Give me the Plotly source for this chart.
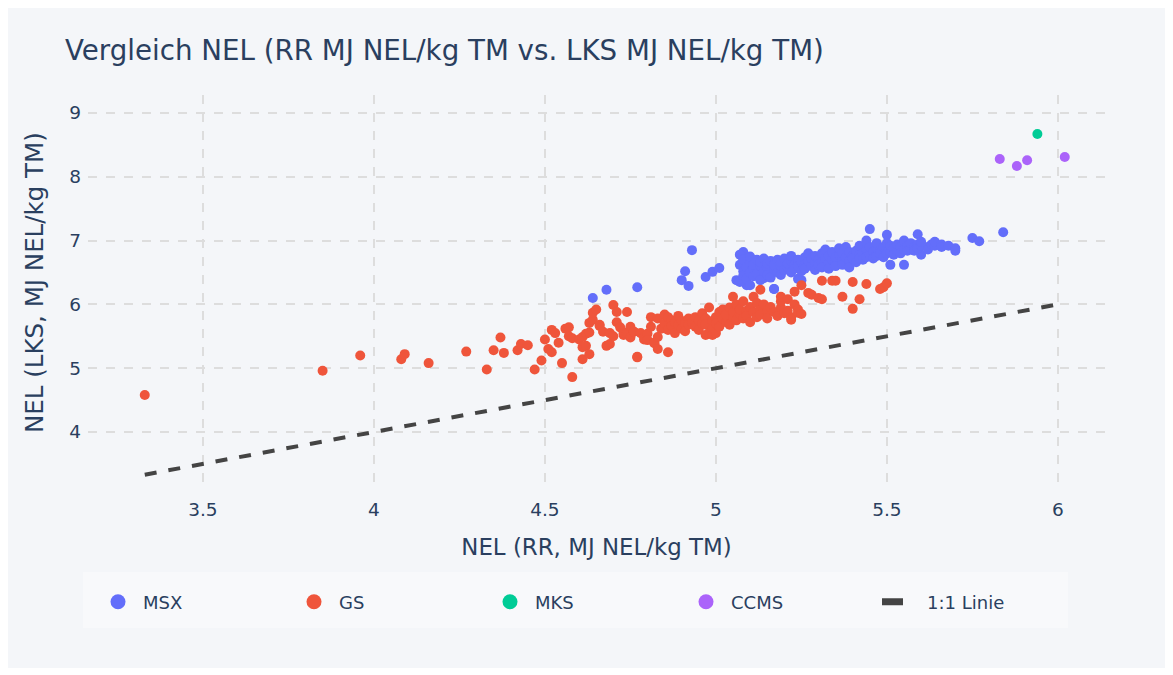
import plotly.graph_objects as go

# ---------------- data ----------------
gs_x = [3.33, 3.85, 3.96, 4.08, 4.09, 4.16, 4.27, 4.33, 4.35, 4.37, 4.38, 4.42, 4.43, 4.45, 4.47,
        4.49, 4.50, 4.51, 4.52, 4.52, 4.53, 4.54, 4.55, 4.56, 4.57, 4.57, 4.58, 4.58, 4.60, 4.61,
        4.61, 4.61, 4.62, 4.62, 4.63, 4.63, 4.63, 4.64, 4.64, 4.65, 4.66, 4.66, 4.67, 4.68, 4.69,
        4.69, 4.70, 4.70, 4.71, 4.71, 4.72, 4.73, 4.73, 4.74, 4.74, 4.75, 4.75, 4.76, 4.76, 4.77,
        4.77, 4.78, 4.79, 4.79, 4.80, 4.80, 4.81, 4.81, 4.82, 4.82, 4.83, 4.83, 4.83, 4.84, 4.85,
        4.85, 4.86, 4.86, 4.86, 4.87, 4.87, 4.88, 4.88, 4.89, 4.89, 4.90, 4.90, 4.91, 4.91, 4.92,
        4.92, 4.93, 4.94, 4.94, 4.95, 4.95, 4.96, 4.96, 4.97, 4.97, 4.97, 4.98, 4.98, 4.99, 4.99,
        4.99, 5.00, 5.00, 5.00, 5.01, 5.01, 5.02, 5.02, 5.03, 5.03, 5.04, 5.04, 5.05, 5.05, 5.05,
        5.06, 5.06, 5.07, 5.07, 5.08, 5.08, 5.09, 5.09, 5.10, 5.10, 5.11, 5.11, 5.12, 5.12, 5.13,
        5.13, 5.13, 5.14, 5.15, 5.15, 5.16, 5.17, 5.18, 5.19, 5.19, 5.19, 5.20, 5.21, 5.21, 5.22,
        5.22, 5.23, 5.23, 5.24, 5.24, 5.25, 5.25, 5.27, 5.28, 5.30, 5.31, 5.31, 5.34, 5.35, 5.37,
        5.40, 5.42, 5.40, 5.44, 5.48, 5.49, 5.50]
gs_y = [4.58, 4.96, 5.20, 5.14, 5.22, 5.08, 5.26, 4.98, 5.28, 5.48, 5.24, 5.28, 5.38, 5.36, 4.98,
        5.12, 5.45, 5.30, 5.25, 5.60, 5.55, 5.40, 5.08, 5.62, 5.64, 5.50, 5.47, 4.86, 5.45, 5.14,
        5.49, 5.33, 5.35, 5.54, 5.56, 5.22, 5.71, 5.76, 5.87, 5.92, 5.66, 5.68, 5.57, 5.35, 5.38,
        5.55, 5.50, 5.99, 5.88, 5.72, 5.64, 5.52, 5.55, 5.56, 5.88, 5.48, 5.65, 5.57, 5.57, 5.17,
        5.18, 5.55, 5.45, 5.49, 5.54, 5.44, 5.65, 5.80, 5.40, 5.39, 5.30, 5.78, 5.49, 5.62, 5.84,
        5.70, 5.80, 5.60, 5.25, 5.75, 5.66, 5.72, 5.55, 5.68, 5.82, 5.74, 5.62, 5.70, 5.58, 5.78,
        5.68, 5.72, 5.65, 5.80, 5.75, 5.60, 5.70, 5.86, 5.78, 5.68, 5.52, 5.95, 5.55, 5.74, 5.62,
        5.52, 5.80, 5.70, 5.55, 5.88, 5.65, 5.78, 5.92, 5.72, 5.84, 5.68, 5.95, 5.80, 5.88, 6.12,
        5.75, 6.00, 5.85, 5.92, 5.78, 6.05, 5.90, 5.82, 5.96, 5.72, 6.12, 5.88, 5.80, 6.02, 5.92,
        5.84, 6.23, 6.00, 5.90, 5.78, 5.96, 5.88, 5.82, 5.95, 6.05, 6.12, 5.86, 5.90, 6.08, 5.80,
        5.76, 6.00, 6.20, 5.92, 5.87, 5.85, 6.30, 6.18, 6.15, 6.10, 6.08, 6.37, 6.37, 6.37, 6.12,
        6.35, 6.08, 5.93, 6.32, 6.24, 6.27, 6.33]

msx_x = [4.64, 4.68, 4.77, 4.93, 4.91, 4.90, 4.92, 4.97, 4.99, 5.01, 5.08, 5.08, 5.06, 5.09,
         5.17, 5.14, 5.25, 5.75, 5.77, 5.84, 5.45, 5.50, 5.51, 5.55, 5.59, 5.60,
         5.07, 5.07, 5.07, 5.08, 5.08, 5.08, 5.09, 5.09, 5.10, 5.10, 5.10, 5.10,
         5.11, 5.11, 5.11, 5.12, 5.12, 5.13, 5.13, 5.13, 5.14, 5.14, 5.15, 5.15, 5.15,
         5.16, 5.16, 5.17, 5.17, 5.17, 5.18, 5.18, 5.19, 5.19, 5.19, 5.20, 5.20,
         5.21, 5.21, 5.22, 5.22, 5.22, 5.23, 5.23, 5.24, 5.24, 5.24, 5.25, 5.25,
         5.26, 5.26, 5.26, 5.27, 5.27, 5.28, 5.28, 5.29, 5.29, 5.29, 5.30, 5.30,
         5.31, 5.31, 5.31, 5.32, 5.32, 5.33, 5.33, 5.33, 5.34, 5.34, 5.35, 5.35, 5.35,
         5.36, 5.36, 5.37, 5.37, 5.37, 5.38, 5.38, 5.39, 5.39, 5.39, 5.40, 5.40,
         5.41, 5.41, 5.42, 5.42, 5.42, 5.43, 5.43, 5.44, 5.44, 5.44, 5.45, 5.45,
         5.46, 5.46, 5.47, 5.47, 5.47, 5.48, 5.48, 5.49, 5.49, 5.50, 5.50, 5.50,
         5.51, 5.51, 5.52, 5.52, 5.53, 5.53, 5.54, 5.54, 5.55, 5.55, 5.56, 5.56,
         5.57, 5.57, 5.58, 5.58, 5.59, 5.59, 5.60, 5.60, 5.62, 5.62, 5.63, 5.64, 5.64,
         5.66, 5.66, 5.68, 5.70, 5.70]
msx_y = [6.10, 6.23, 6.27, 6.85, 6.52, 6.38, 6.29, 6.43, 6.51, 6.57, 6.82, 6.74, 6.38, 6.30,
         6.24, 6.41, 6.38, 7.04, 6.99, 7.13, 7.18, 7.09, 6.62, 6.62, 7.10, 6.78,
         6.35, 6.62, 6.78, 6.52, 6.70, 6.45, 6.58, 6.40, 6.66, 6.50, 6.75, 6.30,
         6.56, 6.44, 6.62, 6.70, 6.48, 6.60, 6.38, 6.66, 6.52, 6.72, 6.58, 6.46, 6.64,
         6.68, 6.42, 6.55, 6.62, 6.24, 6.70, 6.50, 6.60, 6.66, 6.46, 6.72, 6.54,
         6.58, 6.64, 6.68, 6.50, 6.76, 6.62, 6.56, 6.70, 6.60, 6.40, 6.66, 6.52,
         6.74, 6.62, 6.56, 6.68, 6.80, 6.60, 6.72, 6.66, 6.76, 6.54, 6.70, 6.62,
         6.80, 6.66, 6.58, 6.72, 6.86, 6.64, 6.76, 6.56, 6.70, 6.82, 6.66, 6.74, 6.60,
         6.78, 6.88, 6.70, 6.62, 6.80, 6.74, 6.90, 6.68, 6.82, 6.58, 6.76, 6.72,
         6.84, 6.66, 6.78, 6.72, 6.92, 6.80, 6.70, 6.86, 6.74, 7.00, 6.78, 6.90,
         6.82, 6.72, 6.76, 6.88, 6.96, 6.84, 6.80, 6.90, 6.74, 6.86, 6.80, 6.96,
         6.82, 6.92, 6.88, 6.78, 6.84, 6.94, 6.90, 6.80, 6.86, 7.00, 6.92, 6.84,
         6.88, 6.96, 6.90, 6.84, 6.94, 6.88, 6.92, 6.98, 6.90, 6.86, 6.94, 6.92, 6.98,
         6.94, 6.90, 6.92, 6.88, 6.84]

mks_x = [5.94]
mks_y = [8.67]

ccms_x = [5.83, 5.88, 5.91, 6.02]
ccms_y = [8.28, 8.17, 8.26, 8.31]

line_x = [3.33, 6.02]
line_y = [3.33, 6.02]

x_ticks = [3.5, 4, 4.5, 5, 5.5, 6]
y_ticks = [4, 5, 6, 7, 8, 9]

series_names = ["MSX", "GS", "MKS", "CCMS"]
series_colors = ["#636efa", "#ef553b", "#00cc96", "#ab63fa"]

# ---------------- figure ----------------
BG = "#f4f6f9"
LEG_BG = "#f8f9fb"
FONT = "Verdana, DejaVu Sans, sans-serif"
TXT = "#2a3f5f"
LINE_COL = "#444444"

fig = go.Figure()
series_data = [(msx_x, msx_y), (gs_x, gs_y), (mks_x, mks_y), (ccms_x, ccms_y)]
for name, (xs, ys), col in zip(series_names, series_data, series_colors):
    fig.add_trace(go.Scatter(x=xs, y=ys, mode="markers", name=name, legendgroup=name,
                             showlegend=False, marker=dict(color=col, size=10)))

fig.add_trace(go.Scatter(x=line_x, y=line_y, mode="lines", name="1:1 Linie",
                         legendgroup="line", showlegend=False,
                         line=dict(color=LINE_COL, width=4, dash="dash")))

# legend entries (larger legend symbols, as in the reference)
for name, col in zip(series_names, series_colors):
    fig.add_trace(go.Scatter(x=[None], y=[None], mode="markers", name=name, legendgroup=name,
                             marker=dict(color=col, size=15)))
fig.add_trace(go.Scatter(x=[None], y=[None], mode="lines", name="1:1 Linie", legendgroup="line",
                         line=dict(color=LINE_COL, width=7, dash="dash")))

L, T, PW, PH = 80, 87, 1017, 393
W, H = 1157, 660

fig.update_layout(
    width=W, height=H,
    paper_bgcolor=BG,
    plot_bgcolor=BG,
    font=dict(family=FONT, color=TXT, size=16),
    margin=dict(l=L, r=W - L - PW, t=T, b=H - T - PH, autoexpand=False),
    title=dict(text="Vergleich NEL (RR MJ NEL/kg TM vs. LKS MJ NEL/kg TM)",
               x=57 / W, xanchor="left", y=1 - 42 / H, yanchor="middle",
               font=dict(size=27.7, color=TXT)),
    xaxis=dict(title=dict(text="NEL (RR, MJ NEL/kg TM)", font=dict(size=22.9), standoff=20),
               range=[3.164, 3.164 + PW / 342], tickvals=x_ticks, showgrid=True,
               gridcolor="#dddddd", griddash="dash", gridwidth=1.5, zeroline=False,
               tickfont=dict(size=18.5), ticklabelstandoff=8, automargin=False),
    yaxis=dict(range=[9.282 - PH / 63.8, 9.282], tickvals=y_ticks, showgrid=True,
               gridcolor="#dddddd", griddash="dash", gridwidth=1.5, zeroline=False,
               tickfont=dict(size=18.5), ticklabelstandoff=6, automargin=False),
    annotations=[dict(text="NEL (LKS, MJ NEL/kg TM)", textangle=-90, showarrow=False,
                      xref="paper", yref="paper", x=(26 - L) / PW, y=(T + PH - 275) / PH,
                      xanchor="center", yanchor="middle",
                      font=dict(size=24.5, color=TXT))],
    legend=dict(orientation="h", x=(85 - L) / PW, xanchor="left",
                y=(T + PH - 594) / PH, yanchor="middle",
                bgcolor="rgba(0,0,0,0)", entrywidth=141, itemwidth=40,
                font=dict(size=18), itemsizing="trace"),
    shapes=[dict(type="rect", xref="paper", yref="paper",
                 x0=(75 - L) / PW, x1=(1060 - L) / PW,
                 y0=(T + PH - 620) / PH, y1=(T + PH - 564) / PH,
                 fillcolor=LEG_BG, line=dict(width=0), layer="below")],
)

fig.write_html("out.html")
